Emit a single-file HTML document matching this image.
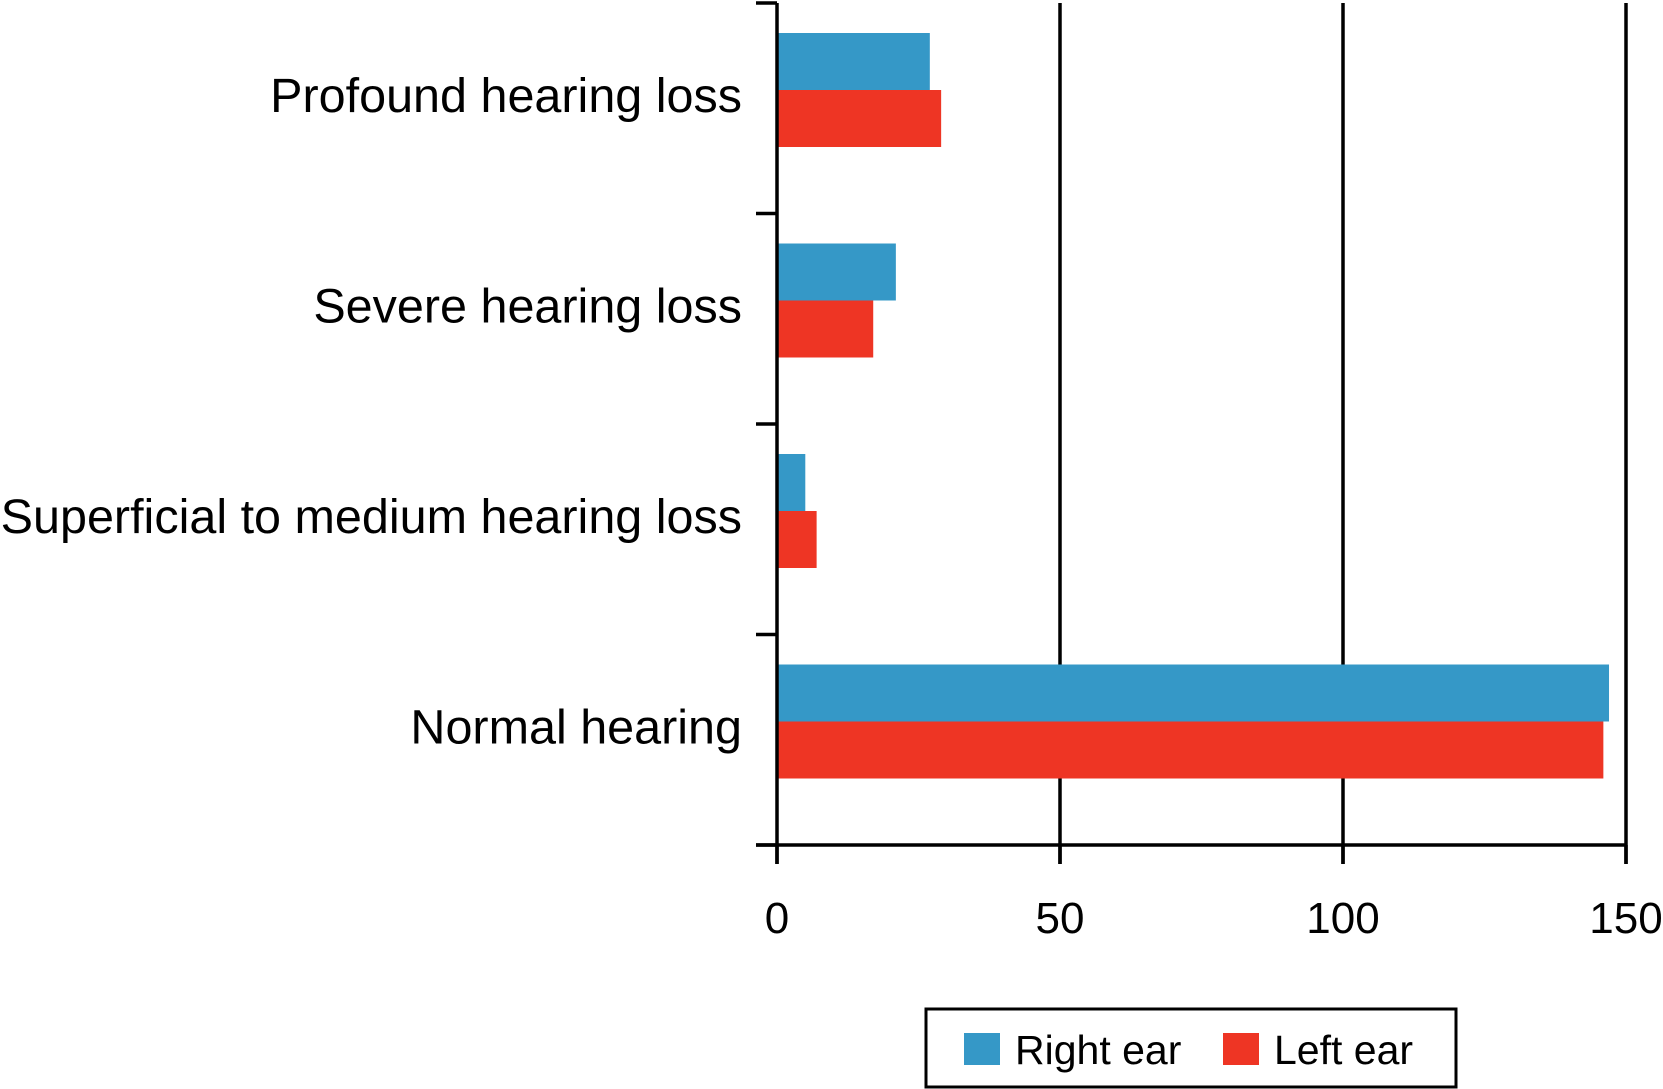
<!DOCTYPE html>
<html><head><meta charset="utf-8"><style>
html,body{margin:0;padding:0;background:#fff;}
svg{display:block;font-family:"Liberation Sans",Arial,sans-serif;}
</style></head><body>
<svg id="chart" width="1663" height="1089" viewBox="0 0 1663 1089"></svg>
<script>
const categories = ["Profound hearing loss","Severe hearing loss","Superficial to medium hearing loss","Normal hearing"];
const rightEar = [27, 21, 5, 147];
const leftEar = [29, 17, 7, 146];
const xTicks = [0, 50, 100, 150];
const seriesNames = ["Right ear","Left ear"];

const NS = "http://www.w3.org/2000/svg";
const svg = document.getElementById("chart");
const x0 = 777, x150 = 1626, yTop = 3, yBottom = 845;
const xScale = v => x0 + (v / 150) * (x150 - x0);
const bandTop = i => yTop + i * ((yBottom - yTop) / 4);
const barH = 57;
function mk(tag, attrs, parent) {
  const e = document.createElementNS(NS, tag);
  for (const k in attrs) e.setAttribute(k, attrs[k]);
  (parent || svg).appendChild(e);
  return e;
}
xTicks.forEach((t) => {
  if (t === 0) return;
  const g = mk("line", {x1: xScale(t), x2: xScale(t), y1: yTop, y2: yBottom + 19, stroke: "#000", "stroke-width": 3.5});
  
  
});
categories.forEach((c, i) => {
  const center = bandTop(i) + 87;
  const rb = mk("rect", {x: x0, y: center - barH, width: xScale(rightEar[i]) - x0, height: barH, fill: "#3598c7"});
  
  
  const lb = mk("rect", {x: x0, y: center, width: xScale(leftEar[i]) - x0, height: barH, fill: "#ee3524"});
  
  
  const lab = mk("text", {x: 742, y: center + 22, "text-anchor": "end", "font-size": 48.5, fill: "#000"});
  lab.textContent = c;
  
  
});
const ya = mk("line", {x1: x0, x2: x0, y1: yTop, y2: yBottom + 19, stroke: "#000", "stroke-width": 3.5});


for (let i = 0; i <= 4; i++) {
  const y = bandTop(i);
  const t = mk("line", {x1: 756, x2: x0, y1: y, y2: y, stroke: "#000", "stroke-width": 3.5});
  
  
}
const xa = mk("line", {x1: 756, x2: x150 + 1.5, y1: yBottom, y2: yBottom, stroke: "#000", "stroke-width": 3.5});


xTicks.forEach(t => {
  const tk = mk("line", {x1: xScale(t), x2: xScale(t), y1: yBottom, y2: yBottom + 19, stroke: "#000", "stroke-width": 3.5});
  
  
  const tl = mk("text", {x: xScale(t), y: 933, "text-anchor": "middle", "font-size": 44, fill: "#000"});
  tl.textContent = t;
  
  
});
const lg = mk("g", {});


mk("rect", {x: 926, y: 1009, width: 530, height: 78, fill: "#fff", stroke: "#000", "stroke-width": 3}, lg);
const sw = [[964, "#3598c7", 1015], [1223, "#ee3524", 1274]];
seriesNames.forEach((n, i) => {
  const s = mk("rect", {x: sw[i][0], y: 1033, width: 36, height: 32, fill: sw[i][1]}, lg);
  
  
  const t = mk("text", {x: sw[i][2], y: 1064, "font-size": 41, fill: "#000"}, lg);
  t.textContent = n;
  
  
});
</script>
</body></html>
